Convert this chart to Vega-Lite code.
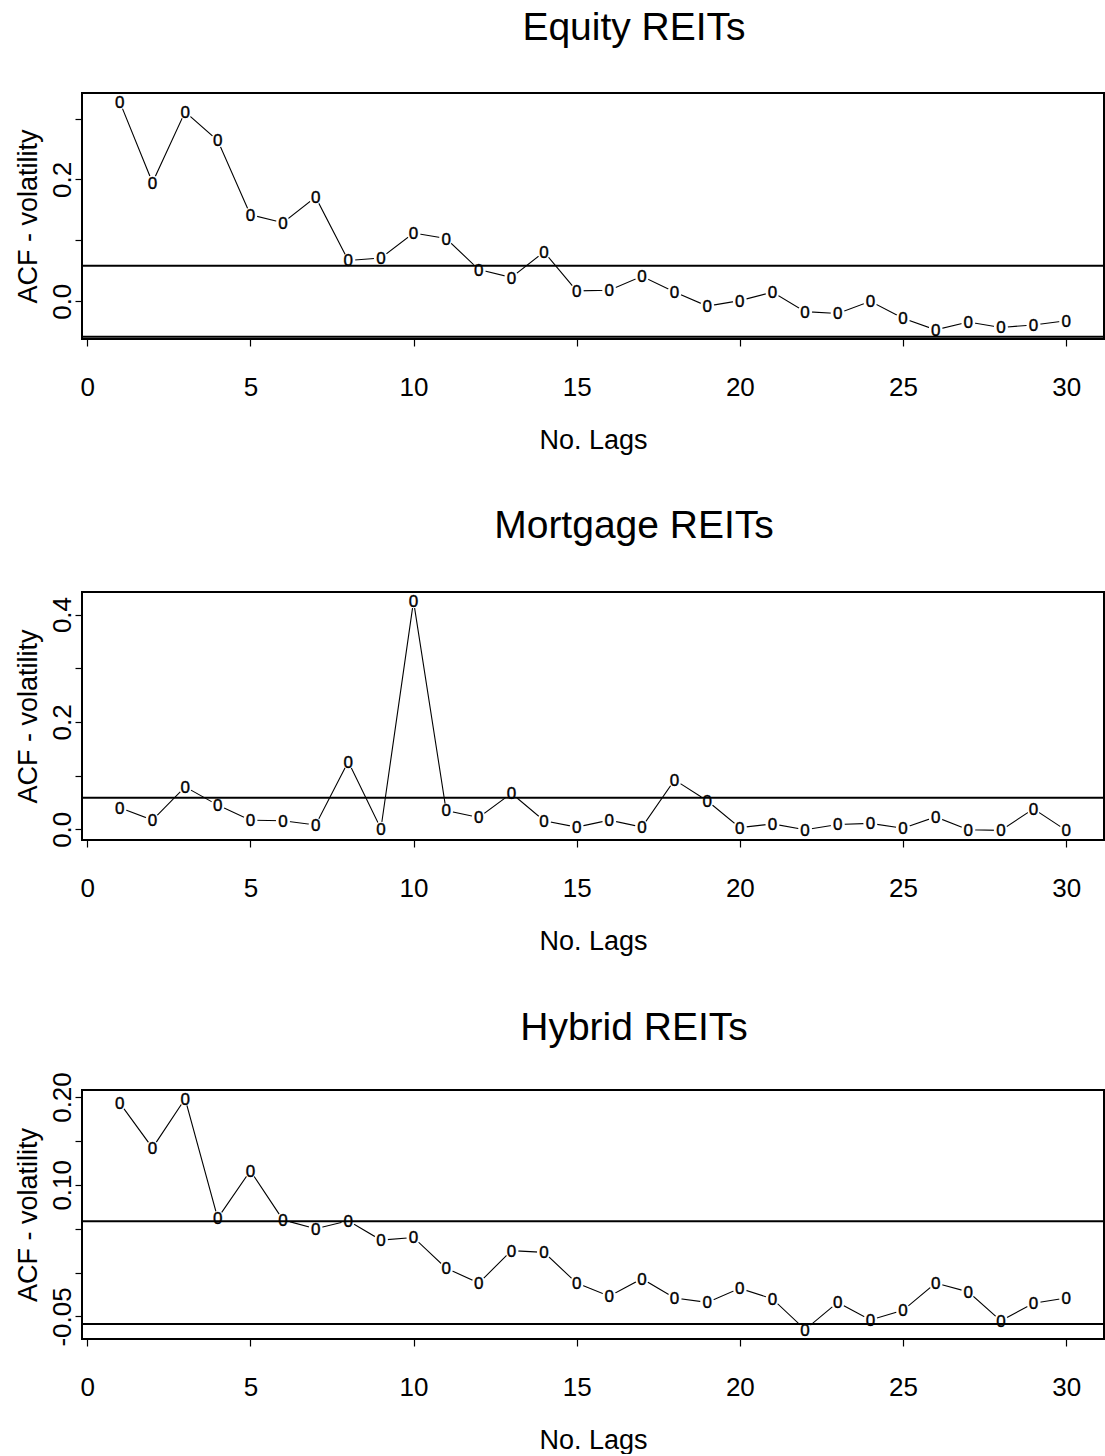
{
  "$schema": "https://vega.github.io/schema/vega-lite/v6.json",
  "background": "white",
  "padding": {"left": 13, "top": 8, "right": 2, "bottom": 0},
  "spacing": 52,
  "config": {
    "font": "Liberation Sans",
    "view": {"stroke": "black", "strokeWidth": 2},
    "axis": {"grid": false, "domain": false, "tickColor": "black", "tickWidth": 1.2, "tickSize": 7,
      "labelFont": "Liberation Sans", "labelFontSize": 26, "labelColor": "black",
      "titleFont": "Liberation Sans", "titleFontSize": 27, "titleFontWeight": "normal", "titleColor": "black"},
    "axisX": {"labelPadding": 28, "titlePadding": 27, "labelFlush": false},
    "axisY": {"labelAngle": -90, "labelAlign": "center", "labelBaseline": "alphabetic", "labelPadding": 5, "titlePadding": 7},
    "title": {"font": "Liberation Sans", "fontSize": 39, "fontWeight": "normal", "color": "black", "anchor": "middle", "frame": "group", "dx": 41, "offset": 47}
  },
  "datasets": {
    "ci": [{"ci": 0.0585}, {"ci": -0.0585}],
    "equity": [
      {"lag": 1, "acf": 0.327}, {"lag": 2, "acf": 0.195}, {"lag": 3, "acf": 0.311}, {"lag": 4, "acf": 0.264},
      {"lag": 5, "acf": 0.142}, {"lag": 6, "acf": 0.129}, {"lag": 7, "acf": 0.171}, {"lag": 8, "acf": 0.067},
      {"lag": 9, "acf": 0.071}, {"lag": 10, "acf": 0.112}, {"lag": 11, "acf": 0.103}, {"lag": 12, "acf": 0.052},
      {"lag": 13, "acf": 0.039}, {"lag": 14, "acf": 0.081}, {"lag": 15, "acf": 0.017}, {"lag": 16, "acf": 0.018},
      {"lag": 17, "acf": 0.041}, {"lag": 18, "acf": 0.015}, {"lag": 19, "acf": -0.008}, {"lag": 20, "acf": 0.001},
      {"lag": 21, "acf": 0.015}, {"lag": 22, "acf": -0.017}, {"lag": 23, "acf": -0.020}, {"lag": 24, "acf": 0.000},
      {"lag": 25, "acf": -0.028}, {"lag": 26, "acf": -0.047}, {"lag": 27, "acf": -0.034}, {"lag": 28, "acf": -0.043},
      {"lag": 29, "acf": -0.039}, {"lag": 30, "acf": -0.032}
    ],
    "mortgage": [
      {"lag": 1, "acf": 0.040}, {"lag": 2, "acf": 0.017}, {"lag": 3, "acf": 0.079}, {"lag": 4, "acf": 0.045},
      {"lag": 5, "acf": 0.017}, {"lag": 6, "acf": 0.016}, {"lag": 7, "acf": 0.008}, {"lag": 8, "acf": 0.126},
      {"lag": 9, "acf": 0.001}, {"lag": 10, "acf": 0.425}, {"lag": 11, "acf": 0.035}, {"lag": 12, "acf": 0.022},
      {"lag": 13, "acf": 0.067}, {"lag": 14, "acf": 0.016}, {"lag": 15, "acf": 0.004}, {"lag": 16, "acf": 0.017},
      {"lag": 17, "acf": 0.004}, {"lag": 18, "acf": 0.092}, {"lag": 19, "acf": 0.053}, {"lag": 20, "acf": 0.003},
      {"lag": 21, "acf": 0.010}, {"lag": 22, "acf": -0.001}, {"lag": 23, "acf": 0.009}, {"lag": 24, "acf": 0.011},
      {"lag": 25, "acf": 0.002}, {"lag": 26, "acf": 0.023}, {"lag": 27, "acf": -0.001}, {"lag": 28, "acf": -0.002},
      {"lag": 29, "acf": 0.038}, {"lag": 30, "acf": -0.002}
    ],
    "hybrid": [
      {"lag": 1, "acf": 0.193}, {"lag": 2, "acf": 0.142}, {"lag": 3, "acf": 0.198}, {"lag": 4, "acf": 0.062},
      {"lag": 5, "acf": 0.116}, {"lag": 6, "acf": 0.060}, {"lag": 7, "acf": 0.050}, {"lag": 8, "acf": 0.059},
      {"lag": 9, "acf": 0.037}, {"lag": 10, "acf": 0.040}, {"lag": 11, "acf": 0.005}, {"lag": 12, "acf": -0.012},
      {"lag": 13, "acf": 0.025}, {"lag": 14, "acf": 0.023}, {"lag": 15, "acf": -0.012}, {"lag": 16, "acf": -0.027},
      {"lag": 17, "acf": -0.007}, {"lag": 18, "acf": -0.029}, {"lag": 19, "acf": -0.034}, {"lag": 20, "acf": -0.018},
      {"lag": 21, "acf": -0.030}, {"lag": 22, "acf": -0.065}, {"lag": 23, "acf": -0.034}, {"lag": 24, "acf": -0.054},
      {"lag": 25, "acf": -0.043}, {"lag": 26, "acf": -0.012}, {"lag": 27, "acf": -0.022}, {"lag": 28, "acf": -0.055},
      {"lag": 29, "acf": -0.035}, {"lag": 30, "acf": -0.029}
    ]
  },
  "vconcat": [
    {
      "title": {"text": "Equity REITs", "offset": 45},
      "width": 1022, "height": 246,
      "encoding": {
        "x": {"field": "lag", "type": "quantitative", "scale": {"domain": [-0.16, 31.16], "nice": false, "zero": false},
              "axis": {"values": [0, 5, 10, 15, 20, 25, 30], "title": "No. Lags"}},
        "y": {"field": "acf", "type": "quantitative", "scale": {"domain": [-0.062, 0.342], "nice": false, "zero": false},
              "axis": {"values": [0, 0.1, 0.2, 0.3], "title": "ACF - volatility",
                       "labelExpr": "abs(datum.value) < 0.001 ? '0.0' : abs(datum.value - 0.2) < 0.001 ? '0.2' : ''"}}
      },
      "layer": [
        {"data": {"name": "equity"}, "mark": {"type": "line", "color": "black", "strokeWidth": 1.1}},
        {"data": {"name": "equity"}, "mark": {"type": "point", "shape": "circle", "filled": true, "color": "white", "opacity": 1, "size": 200}},
        {"data": {"name": "equity"}, "mark": {"type": "text", "text": "0", "fontSize": 17, "color": "black", "stroke": "black", "strokeWidth": 0.4, "baseline": "middle", "align": "center", "dy": 1}},
        {"data": {"name": "ci"}, "mark": {"type": "rule", "color": "black", "strokeWidth": 2, "clip": true},
         "encoding": {"y": {"field": "ci", "type": "quantitative"}, "x": null}}
      ]
    },
    {
      "title": {"text": "Mortgage REITs", "offset": 46},
      "width": 1022, "height": 248,
      "encoding": {
        "x": {"field": "lag", "type": "quantitative", "scale": {"domain": [-0.16, 31.16], "nice": false, "zero": false},
              "axis": {"values": [0, 5, 10, 15, 20, 25, 30], "title": "No. Lags"}},
        "y": {"field": "acf", "type": "quantitative", "scale": {"domain": [-0.02, 0.442], "nice": false, "zero": false},
              "axis": {"values": [0, 0.1, 0.2, 0.3, 0.4], "title": "ACF - volatility",
                       "labelExpr": "abs(datum.value) < 0.001 ? '0.0' : abs(datum.value - 0.2) < 0.001 ? '0.2' : abs(datum.value - 0.4) < 0.001 ? '0.4' : ''"}}
      },
      "layer": [
        {"data": {"name": "mortgage"}, "mark": {"type": "line", "color": "black", "strokeWidth": 1.1}},
        {"data": {"name": "mortgage"}, "mark": {"type": "point", "shape": "circle", "filled": true, "color": "white", "opacity": 1, "size": 200}},
        {"data": {"name": "mortgage"}, "mark": {"type": "text", "text": "0", "fontSize": 17, "color": "black", "stroke": "black", "strokeWidth": 0.4, "baseline": "middle", "align": "center", "dy": 1}},
        {"data": {"name": "ci"}, "mark": {"type": "rule", "color": "black", "strokeWidth": 2, "clip": true},
         "encoding": {"y": {"field": "ci", "type": "quantitative"}, "x": null}}
      ]
    },
    {
      "title": {"text": "Hybrid REITs", "offset": 24},
      "width": 1022, "height": 249,
      "encoding": {
        "x": {"field": "lag", "type": "quantitative", "scale": {"domain": [-0.16, 31.16], "nice": false, "zero": false},
              "axis": {"values": [0, 5, 10, 15, 20, 25, 30], "title": "No. Lags"}},
        "y": {"field": "acf", "type": "quantitative", "scale": {"domain": [-0.0757, 0.208], "nice": false, "zero": false},
              "axis": {"values": [-0.05, 0, 0.05, 0.1, 0.15, 0.2], "title": "ACF - volatility",
                       "labelExpr": "abs(datum.value + 0.05) < 0.001 ? '-0.05' : abs(datum.value - 0.1) < 0.001 ? '0.10' : abs(datum.value - 0.2) < 0.001 ? '0.20' : ''"}}
      },
      "layer": [
        {"data": {"name": "hybrid"}, "mark": {"type": "line", "color": "black", "strokeWidth": 1.1}},
        {"data": {"name": "hybrid"}, "mark": {"type": "point", "shape": "circle", "filled": true, "color": "white", "opacity": 1, "size": 200}},
        {"data": {"name": "hybrid"}, "mark": {"type": "text", "text": "0", "fontSize": 17, "color": "black", "stroke": "black", "strokeWidth": 0.4, "baseline": "middle", "align": "center", "dy": 1}},
        {"data": {"name": "ci"}, "mark": {"type": "rule", "color": "black", "strokeWidth": 2, "clip": true},
         "encoding": {"y": {"field": "ci", "type": "quantitative"}, "x": null}}
      ]
    }
  ]
}
